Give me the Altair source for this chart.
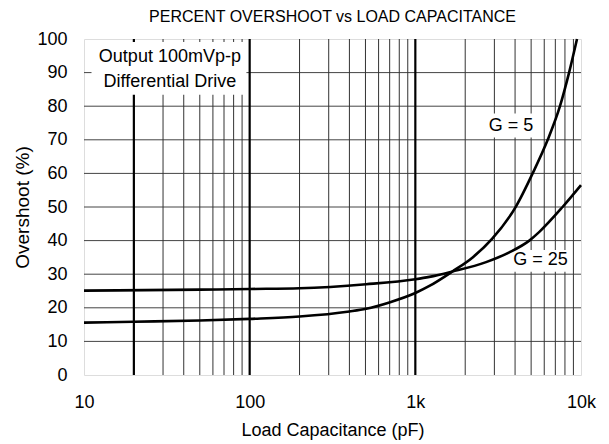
import altair as alt
import pandas as pd

# Curves: load capacitance (pF) vs overshoot (%)
g5_c = [10, 20, 50, 100, 200, 400, 505, 697, 1000, 1216, 1673, 2218, 2904, 4055, 5106, 6295, 7465, 8472, 9460]
g5_v = [15.6, 15.85, 16.2, 16.7, 17.4, 18.9, 19.7, 21.6, 24.4, 26.5, 30.8, 35.0, 40.5, 50.2, 60.0, 70.0, 80.0, 90.0, 100.0]
g25_c = [10, 50, 100, 200, 505, 1000, 1216, 1673, 2673, 3690, 4875, 5605, 7740, 10000]
g25_v = [25.1, 25.4, 25.6, 25.8, 27.0, 28.5, 29.2, 30.8, 33.6, 36.5, 40.0, 42.6, 50.0, 56.5]

# Axis / grid
x_tick_values = [10, 100, 1000, 10000]
x_tick_labels = ["10", "100", "1k", "10k"]
y_tick_values = [0, 10, 20, 30, 40, 50, 60, 70, 80, 90, 100]
y_grid = [10, 20, 30, 40, 50, 60, 70, 80, 90]
x_minor = [30, 40, 50, 60, 70, 80, 90,
           200, 300, 400, 500, 600, 700, 800, 900,
           2000, 3000, 4000, 5000, 6000, 7000, 8000, 9000]
x_major = [20, 100, 1000]

# Annotations
box_x1 = [11.1, 2574, 3694]
box_x2 = [95.6, 5605, 8740]
box_y1 = [83.4, 70.7, 30.7]
box_y2 = [99.1, 77.8, 37.2]
note_text = ["Output 100mVp-p", "Differential Drive", "G = 5", "G = 25"]
note_x = [33.0, 33.0, 3782, 5702]
note_y = [94.5, 87.3, 74.2, 34.2]

FONT = "Liberation Sans"

label_expr = " : ".join(
    [f"datum.value == {v} ? '{l}'" for v, l in zip(x_tick_values, x_tick_labels)] + ["''"]
)

xscale = alt.Scale(type="log", domain=[10, 10000], nice=False)
yscale = alt.Scale(domain=[0, 100], nice=False)

xaxis = alt.Axis(values=x_tick_values, labelExpr=label_expr, grid=False, ticks=False,
                 domain=False, labelFontSize=18, labelFont=FONT, labelColor="#000",
                 labelPadding=18, labelFlush=False, labelOverlap=False,
                 title="Load Capacitance (pF)", titleFont=FONT, titleFontSize=18,
                 titleFontWeight="normal", titleColor="#000", titlePadding=10)
yaxis = alt.Axis(values=y_tick_values, grid=False, ticks=False, domain=False,
                 labelFontSize=18, labelFont=FONT, labelColor="#000", labelPadding=17,
                 labelFlush=False, labelOverlap=False,
                 title="Overshoot (%)", titleFont=FONT, titleFontSize=19,
                 titleFontWeight="normal", titleColor="#000", titlePadding=4)


def X(field):
    return alt.X(f"{field}:Q", scale=xscale, axis=xaxis)


def Y(field):
    return alt.Y(f"{field}:Q", scale=yscale, axis=yaxis)


minor_df = pd.DataFrame({"C": x_minor})
major_df = pd.DataFrame({"C": x_major})
hgrid_df = pd.DataFrame({"v": y_grid})
box_df = pd.DataFrame({"C": box_x1, "C2": box_x2, "v": box_y1, "v2": box_y2})
note_df = pd.DataFrame({"C": note_x, "v": note_y, "t": note_text})
curve_df = pd.concat([
    pd.DataFrame({"C": g5_c, "v": g5_v, "g": "G = 5"}),
    pd.DataFrame({"C": g25_c, "v": g25_v, "g": "G = 25"}),
])

hgrid = alt.Chart(hgrid_df).mark_rule(color="#444", strokeWidth=1).encode(y=Y("v"))
minor = alt.Chart(minor_df).mark_rule(color="#333", strokeWidth=1).encode(x=X("C"))
major = alt.Chart(major_df).mark_rule(color="#000", strokeWidth=2.2).encode(x=X("C"))
boxes = alt.Chart(box_df).mark_rect(fill="white").encode(
    x=X("C"), x2=alt.X2("C2"), y=Y("v"), y2=alt.Y2("v2"))
curves = alt.Chart(curve_df).mark_line(color="#000", strokeWidth=2.6, interpolate="monotone").encode(
    x=X("C"), y=Y("v"), detail="g:N")
notes = alt.Chart(note_df).mark_text(font=FONT, fontSize=18, color="#000", align="center",
                                     baseline="middle").encode(x=X("C"), y=Y("v"), text="t:N")

chart = alt.layer(hgrid, minor, major, boxes, curves, notes).properties(
    width=497, height=336,
    title=alt.TitleParams("PERCENT OVERSHOOT vs LOAD CAPACITANCE", font=FONT, fontSize=16,
                          fontWeight="normal", color="#000", anchor="middle", offset=5),
    autosize=alt.AutoSizeParams(type="none"),
    padding={"left": 76, "top": 31, "right": 20, "bottom": 66},
).configure_view(stroke="#000", strokeWidth=2.2).configure(background="white")

chart.save("out.html", embed_options={"renderer": "svg", "actions": False})
